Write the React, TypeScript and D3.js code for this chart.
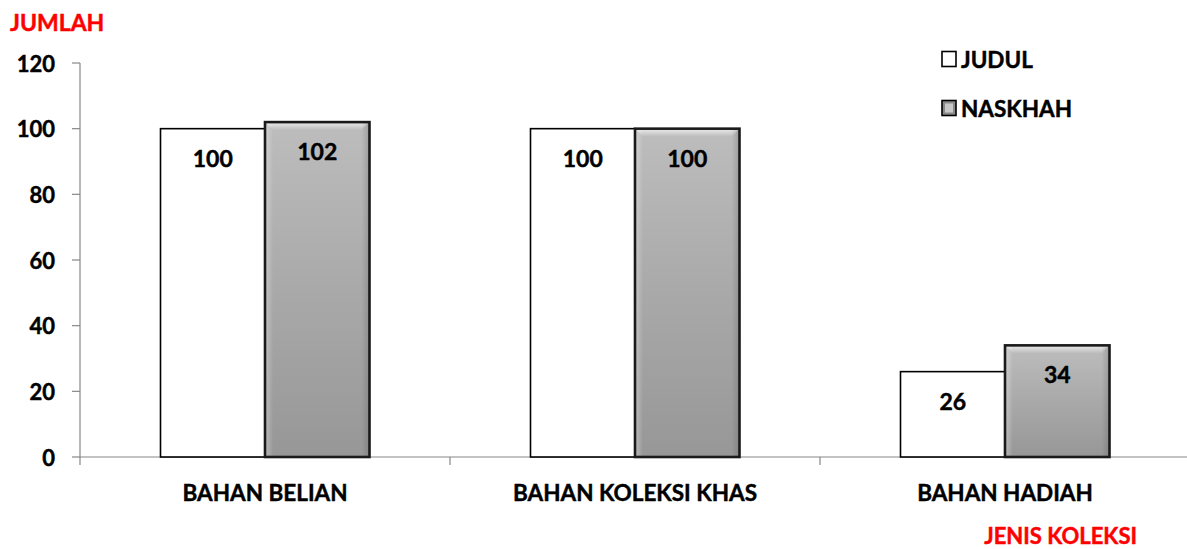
import { useEffect, useRef } from "react"
import * as d3 from "d3"

const categories = ["BAHAN BELIAN", "BAHAN KOLEKSI KHAS", "BAHAN HADIAH"]
const seriesNames = ["JUDUL", "NASKHAH"]
const judul = [100, 100, 26]
const naskhah = [102, 100, 34]
const yTicks = [0, 20, 40, 60, 80, 100, 120]

const FONT = "Lato, 'Open Sans', sans-serif"

export default function App() {
  const svgRef = useRef<SVGSVGElement>(null)
  const width = 1187
  const height = 549

  useEffect(() => {
    if (!svgRef.current) return
    const svg = d3.select(svgRef.current)
    svg.selectAll("*").remove()

    const left = 80
    const right = 1190
    const top = 63
    const bottom = 457

    const boldText = (sel: any, size: number, color = "#000") =>
      sel.attr("font-family", FONT).attr("font-weight", 700).attr("font-size", size)
        .attr("fill", color).attr("stroke", color).attr("stroke-width", 0.45)

    const defs = svg.append("defs")
    // bevel look for the grey bars
    const gV = defs.append("linearGradient").attr("id", "gv").attr("x1", 0).attr("x2", 0).attr("y1", 0).attr("y2", 1)
    gV.append("stop").attr("offset", "0%").attr("stop-color", "#bdbdbd")
    gV.append("stop").attr("offset", "50%").attr("stop-color", "#a9a9a9")
    gV.append("stop").attr("offset", "100%").attr("stop-color", "#979797")
    const gTop = defs.append("linearGradient").attr("id", "gtop").attr("x1", 0).attr("x2", 0).attr("y1", 0).attr("y2", 1)
    gTop.append("stop").attr("offset", "0%").attr("stop-color", "#eeeeee").attr("stop-opacity", 0.95)
    gTop.append("stop").attr("offset", "100%").attr("stop-color", "#eeeeee").attr("stop-opacity", 0)
    const gL = defs.append("linearGradient").attr("id", "gl").attr("x1", 0).attr("x2", 1).attr("y1", 0).attr("y2", 0)
    gL.append("stop").attr("offset", "0%").attr("stop-color", "#ffffff").attr("stop-opacity", 0.35)
    gL.append("stop").attr("offset", "100%").attr("stop-color", "#ffffff").attr("stop-opacity", 0)
    const gR = defs.append("linearGradient").attr("id", "gr").attr("x1", 1).attr("x2", 0).attr("y1", 0).attr("y2", 0)
    gR.append("stop").attr("offset", "0%").attr("stop-color", "#555").attr("stop-opacity", 0.3)
    gR.append("stop").attr("offset", "100%").attr("stop-color", "#555").attr("stop-opacity", 0)

    const x0 = d3.scaleBand().domain(categories).range([left, right])
    const y = d3.scaleLinear().domain([0, 120]).range([bottom, top])
    const barW = 104.5

    // y axis
    svg.append("line").attr("x1", left).attr("x2", left).attr("y1", top).attr("y2", bottom)
      .attr("stroke", "#888").attr("stroke-width", 1.2)
    yTicks.forEach((t) => {
      svg.append("line").attr("x1", left - 8).attr("x2", left).attr("y1", y(t)).attr("y2", y(t))
        .attr("stroke", "#888").attr("stroke-width", 1.2)
      boldText(svg.append("text").attr("x", 55).attr("y", y(t)).attr("text-anchor", "end")
        .attr("dominant-baseline", "central"), 22).text(t)
    })

    // x axis
    svg.append("line").attr("x1", left).attr("x2", width).attr("y1", bottom).attr("y2", bottom)
      .attr("stroke", "#888").attr("stroke-width", 1.2)
    categories.forEach((c) => {
      const bx = x0(c)!
      svg.append("line").attr("x1", bx).attr("x2", bx).attr("y1", bottom).attr("y2", bottom + 8)
        .attr("stroke", "#888").attr("stroke-width", 1.2)
      boldText(svg.append("text").attr("x", bx + x0.bandwidth() / 2).attr("y", 492)
        .attr("text-anchor", "middle").attr("dominant-baseline", "central"), 22.5).text(c)
    })

    // bars
    categories.forEach((c, i) => {
      const cx = x0(c)! + x0.bandwidth() / 2
      const vals = [judul[i], naskhah[i]]
      vals.forEach((v, s) => {
        const bx = cx - barW + s * barW
        const by = y(v)
        const bh = bottom - by
        if (s === 0) {
          svg.append("rect").attr("x", bx).attr("y", by).attr("width", barW).attr("height", bh)
            .attr("fill", "#fff").attr("stroke", "#000").attr("stroke-width", 1.6)
        } else {
          svg.append("rect").attr("x", bx).attr("y", by).attr("width", barW).attr("height", bh)
            .attr("fill", "url(#gv)")
          const b = 8
          svg.append("path")
            .attr("d", `M${bx},${by}H${bx + barW}L${bx + barW - b},${by + b}H${bx + b}Z`)
            .attr("fill", "url(#gtop)")
          svg.append("rect").attr("x", bx).attr("y", by).attr("width", b).attr("height", bh)
            .attr("fill", "url(#gl)")
          svg.append("rect").attr("x", bx + barW - b).attr("y", by).attr("width", b).attr("height", bh)
            .attr("fill", "url(#gr)")
          svg.append("rect").attr("x", bx).attr("y", by).attr("width", barW).attr("height", bh)
            .attr("fill", "none").attr("stroke", "#1a1a1a").attr("stroke-width", 2.6)
        }
        boldText(svg.append("text").attr("x", bx + barW / 2).attr("y", by + 29)
          .attr("text-anchor", "middle").attr("dominant-baseline", "central"), 23).text(v)
      })
    })

    // legend
    seriesNames.forEach((n, i) => {
      const ly = 59 + i * 49
      svg.append("rect").attr("x", 942).attr("y", ly - 7.5).attr("width", 14).attr("height", 15)
        .attr("fill", i === 0 ? "#fff" : "#8a8a8a").attr("stroke", "#000").attr("stroke-width", 1.6)
      if (i === 1) {
        svg.append("rect").attr("x", 945).attr("y", ly - 4.5).attr("width", 8).attr("height", 9)
          .attr("fill", "#c8c8c8")
      }
      boldText(svg.append("text").attr("x", 961).attr("y", ly).attr("dominant-baseline", "central"), 22.5).text(n)
    })

    // axis titles
    boldText(svg.append("text").attr("x", 10).attr("y", 22).attr("dominant-baseline", "central"), 23, "#ff0000")
      .text("JUMLAH")
    boldText(svg.append("text").attr("x", 1137).attr("y", 535).attr("text-anchor", "end")
      .attr("dominant-baseline", "central"), 22, "#ff0000").text("JENIS KOLEKSI")
  }, [])

  return (
    <svg ref={svgRef} width={width} height={height}
      style={{ position: "absolute", left: 0, top: 0, background: "#fff" }} />
  )
}
